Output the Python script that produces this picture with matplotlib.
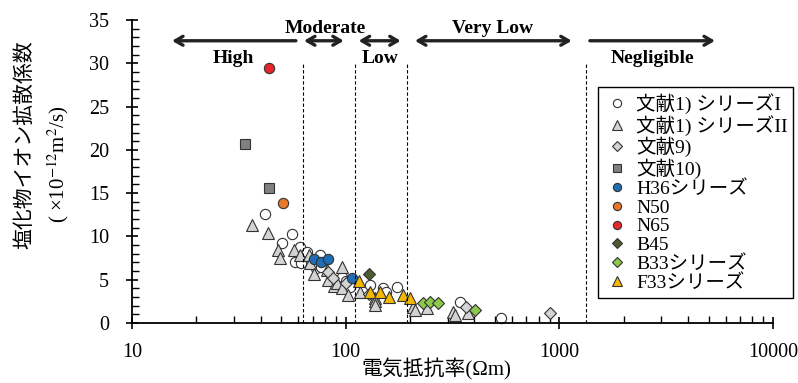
import matplotlib
matplotlib.use("Agg")
import matplotlib.pyplot as plt
from matplotlib.ticker import LogLocator, MultipleLocator, FixedLocator, NullFormatter

plt.rcParams['font.family'] = ['Liberation Serif', 'Noto Sans CJK JP']
plt.rcParams['mathtext.fontset'] = 'stix'

# data (resistivity in Ohm m, diffusion coefficient in 1e-12 m2/s)
ref1_I_x = [42, 50.5, 56, 61, 58, 62, 66, 73, 76, 77, 87.5, 91, 96, 100, 105, 130, 150, 155, 173, 343, 533]
ref1_I_y = [12.6, 9.2, 10.3, 8.8, 7.1, 6.9, 8.2, 6.3, 7.9, 6.5, 5.0, 4.2, 5.35, 4.8, 4.2, 4.4, 4.0, 3.6, 4.2, 2.4, 0.6]

ref1_II_x = [36.3, 43.5, 48.4, 49.3, 57, 61, 67, 68, 71, 81.5, 83, 88, 91, 96, 96, 103, 117, 137, 137, 137, 207, 211, 239, 319, 324, 375]
ref1_II_y = [11.3, 10.4, 8.4, 7.5, 8.4, 7.85, 7.8, 6.9, 5.7, 6.1, 5.0, 4.3, 4.6, 6.5, 4.0, 3.2, 3.6, 2.9, 2.5, 2.1, 1.9, 1.5, 1.7, 1.3, 0.9, 1.1]

ref9_x = [83, 87, 100, 128, 366, 903]
ref9_y = [5.9, 5.2, 4.6, 3.4, 1.9, 1.1]

ref10_x = [33.8, 43.9]
ref10_y = [20.7, 15.6]

h36_x = [71, 77, 83, 107]
h36_y = [7.35, 7.0, 7.35, 5.2]

n50_x = [50.7]
n50_y = [13.9]

n65_x = [43.6]
n65_y = [29.5]

b45_x = [128]
b45_y = [5.66]

b33_x = [230, 248, 271, 405]
b33_y = [2.3, 2.4, 2.3, 1.5]

f33_x = [115, 130, 144, 160, 185, 200]
f33_y = [4.8, 3.6, 3.6, 3.0, 3.2, 2.9]

boundaries = [63, 110, 193, 1330]
ranges = ["High", "Moderate", "Low", "Very Low", "Negligible"]
range_arrows = [(15.4, 58.5, '<-'), (63.8, 98, '<->'), (115, 181, '<->'), (211, 1143, '<->'), (1390, 5350, '->')]
range_label_pos = [(29.7, 30.6), (80, 34.0), (145, 30.6), (489, 34.0), (2740, 30.6)]

fig = plt.figure(figsize=(7.98, 3.83), dpi=100)
ax = fig.add_axes([0.1654, 0.1567, 0.8033, 0.7911])

edge = '#333333'
series = [
    (ref1_I_x, ref1_I_y, 'o', 'white', 7.4, "文献1) シリーズI"),
    (ref1_II_x, ref1_II_y, '^', '#d3d3d3', 8.6, "文献1) シリーズII"),
    (ref9_x, ref9_y, 'D', '#d3d3d3', 6.2, "文献9)"),
    (ref10_x, ref10_y, 's', '#808080', 6.6, "文献10)"),
    (h36_x, h36_y, 'o', '#1f6db5', 7.4, "H36シリーズ"),
    (n50_x, n50_y, 'o', '#e8772a', 7.4, "N50"),
    (n65_x, n65_y, 'o', '#e8262a', 7.4, "N65"),
    (b45_x, b45_y, 'D', '#4e5b31', 6.2, "B45"),
    (b33_x, b33_y, 'D', '#8cc84b', 6.2, "B33シリーズ"),
    (f33_x, f33_y, '^', '#f5b800', 8.6, "F33シリーズ"),
]
for xs, ys, m, fc, ms, lab in series:
    ax.plot(xs, ys, linestyle='none', marker=m, markersize=ms, markerfacecolor=fc,
            markeredgecolor=edge, markeredgewidth=0.8, label=lab, clip_on=False)

for b in boundaries:
    ax.plot([b, b], [0, 30], color='black', linestyle=(0, (3, 2)), linewidth=0.8)

for (x0, x1, st), name, (lx, ly) in zip(range_arrows, ranges, range_label_pos):
    ax.annotate('', xy=(x1, 32.6), xytext=(x0, 32.6),
                arrowprops=dict(arrowstyle=st + ',head_length=0.55,head_width=0.32',
                                color='#222222', lw=2.4, shrinkA=0, shrinkB=0),
                annotation_clip=False)
    ax.text(lx, ly, name, ha='center', va='center', fontsize=14, fontweight='bold',
            family='Liberation Serif')

ax.set_xscale('log')
ax.set_xlim(10, 10000)
ax.set_ylim(0, 35)
ax.xaxis.set_major_locator(FixedLocator([10, 100, 1000, 10000]))
ax.xaxis.set_minor_locator(LogLocator(base=10, subs=range(2, 10)))
ax.xaxis.set_minor_formatter(NullFormatter())
ax.set_xticklabels(['10', '100', '1000', '10000'])
ax.yaxis.set_major_locator(MultipleLocator(5))
ax.yaxis.set_minor_locator(MultipleLocator(1))

for s in ['top', 'right']:
    ax.spines[s].set_visible(False)
for s in ['left', 'bottom']:
    ax.spines[s].set_linewidth(1.3)

ax.tick_params(which='major', direction='inout', length=9, width=1.2, labelsize=14.5)
ax.tick_params(axis='y', which='major', pad=12)
ax.tick_params(axis='x', which='major', pad=10)
ax.tick_params(which='minor', direction='in', length=5, width=1.0)

fig.text(436 / 798, 1 - 369 / 383, "電気抵抗率(Ωm)", ha='center', va='center', fontsize=15)
fig.text(25 / 798, 1 - 145 / 383, "塩化物イオン拡散係数", ha='center', va='center',
         rotation=90, fontsize=15)
fig.text(58 / 798, 1 - 164 / 383, r"( ×10$^{-12}$m$^{2}$/s)", ha='center', va='center',
         rotation=90, fontsize=15)

leg = ax.legend(loc='upper left', bbox_to_anchor=(598 / 798, 1 - 87 / 383),
                bbox_transform=fig.transFigure, fontsize=14, frameon=True, fancybox=False,
                edgecolor='black', framealpha=1, markerscale=0.8, handlelength=1.4,
                handletextpad=0.25, labelspacing=0.06, borderpad=0.3, borderaxespad=0)
leg.get_frame().set_linewidth(1.0)

fig.savefig('out.png', dpi=100)
